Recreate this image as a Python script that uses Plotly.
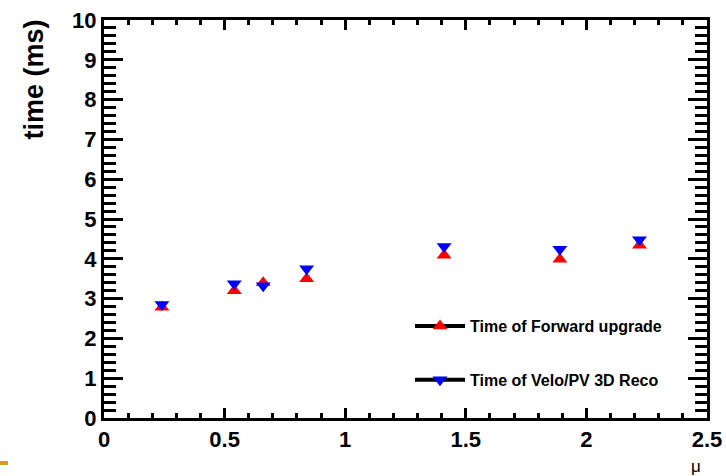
import plotly.graph_objects as go

# Data
mu = [0.24, 0.54, 0.66, 0.84, 1.41, 1.89, 2.22]
time_forward = [2.78, 3.20, 3.40, 3.50, 4.09, 3.99, 4.34]
time_velo = [2.85, 3.37, 3.32, 3.75, 4.31, 4.24, 4.48]
names = ["Time of Forward upgrade", "Time of Velo/PV 3D Reco"]

W, H = 726, 476
L, R, T, B = 104, 19, 20, 58
pw, ph = W - L - R, H - T - B

def px(xp):
    return (xp - L) / pw

def py(yp):
    return (H - B - yp) / ph

FONT = "Liberation Sans, Arial, sans-serif"
MS = 13

fig = go.Figure()

fig.add_trace(go.Scatter(x=mu, y=time_forward, mode="markers", showlegend=False,
                         marker=dict(symbol="triangle-up", size=MS, color="#FF0000",
                                     line=dict(width=0))))
fig.add_trace(go.Scatter(x=mu, y=time_velo, mode="markers", showlegend=False,
                         marker=dict(symbol="triangle-down", size=MS, color="#0000FF",
                                     line=dict(width=0))))
# legend entries (line + marker style, as in the reference)
fig.add_trace(go.Scatter(x=[None], y=[None], mode="lines+markers", name=names[0],
                         legendgroup="a",
                         line=dict(color="black", width=4),
                         marker=dict(symbol="triangle-up", size=MS, color="#FF0000")))
fig.add_trace(go.Scatter(x=[None], y=[None], mode="lines+markers", name=names[1],
                         legendgroup="b",
                         line=dict(color="black", width=4),
                         marker=dict(symbol="triangle-down", size=MS, color="#0000FF")))

axis_common = dict(showline=True, linewidth=3, linecolor="black", mirror="allticks",
                   ticks="inside", tickwidth=3, tickcolor="black", showgrid=False,
                   zeroline=False, automargin=False,
                   tickfont=dict(family=FONT, size=22, color="black", weight="bold"))

fig.update_xaxes(range=[0, 2.5], dtick=0.5, tick0=0, ticklen=10,
                 minor=dict(dtick=0.1, ticklen=5, tickwidth=3, tickcolor="black",
                            ticks="inside", showgrid=False),
                 **axis_common)
fig.update_yaxes(range=[0, 10], dtick=1, tick0=0, ticklen=19,
                 minor=dict(dtick=0.2, ticklen=12, tickwidth=3, tickcolor="black",
                            ticks="inside", showgrid=False),
                 **axis_common)

fig.update_layout(
    width=W, height=H,
    margin=dict(l=L, r=R, t=T, b=B),
    paper_bgcolor="white", plot_bgcolor="white",
    legend=dict(x=px(410), y=py(309), xanchor="left", yanchor="top",
                bgcolor="rgba(0,0,0,0)", borderwidth=0,
                itemwidth=50,
                tracegroupgap=30,
                font=dict(family=FONT, size=16, color="black", weight="bold")),
    annotations=[
        dict(text="<b>time (ms)</b>", xref="paper", yref="paper", x=px(33.5), y=py(18),
             textangle=-90, showarrow=False, xanchor="center", yanchor="top",
             font=dict(family=FONT, size=27, color="black")),
        dict(text="μ", xref="paper", yref="paper", x=px(696), y=py(466),
             showarrow=False, xanchor="center", yanchor="middle",
             font=dict(family=FONT, size=17, color="black")),
    ],
    shapes=[
        dict(type="rect", xref="paper", yref="paper", x0=px(0), x1=px(8),
             y0=py(465), y1=py(461), fillcolor="#D4A017", line=dict(width=0)),
    ],
)

fig.write_html("out.html")
